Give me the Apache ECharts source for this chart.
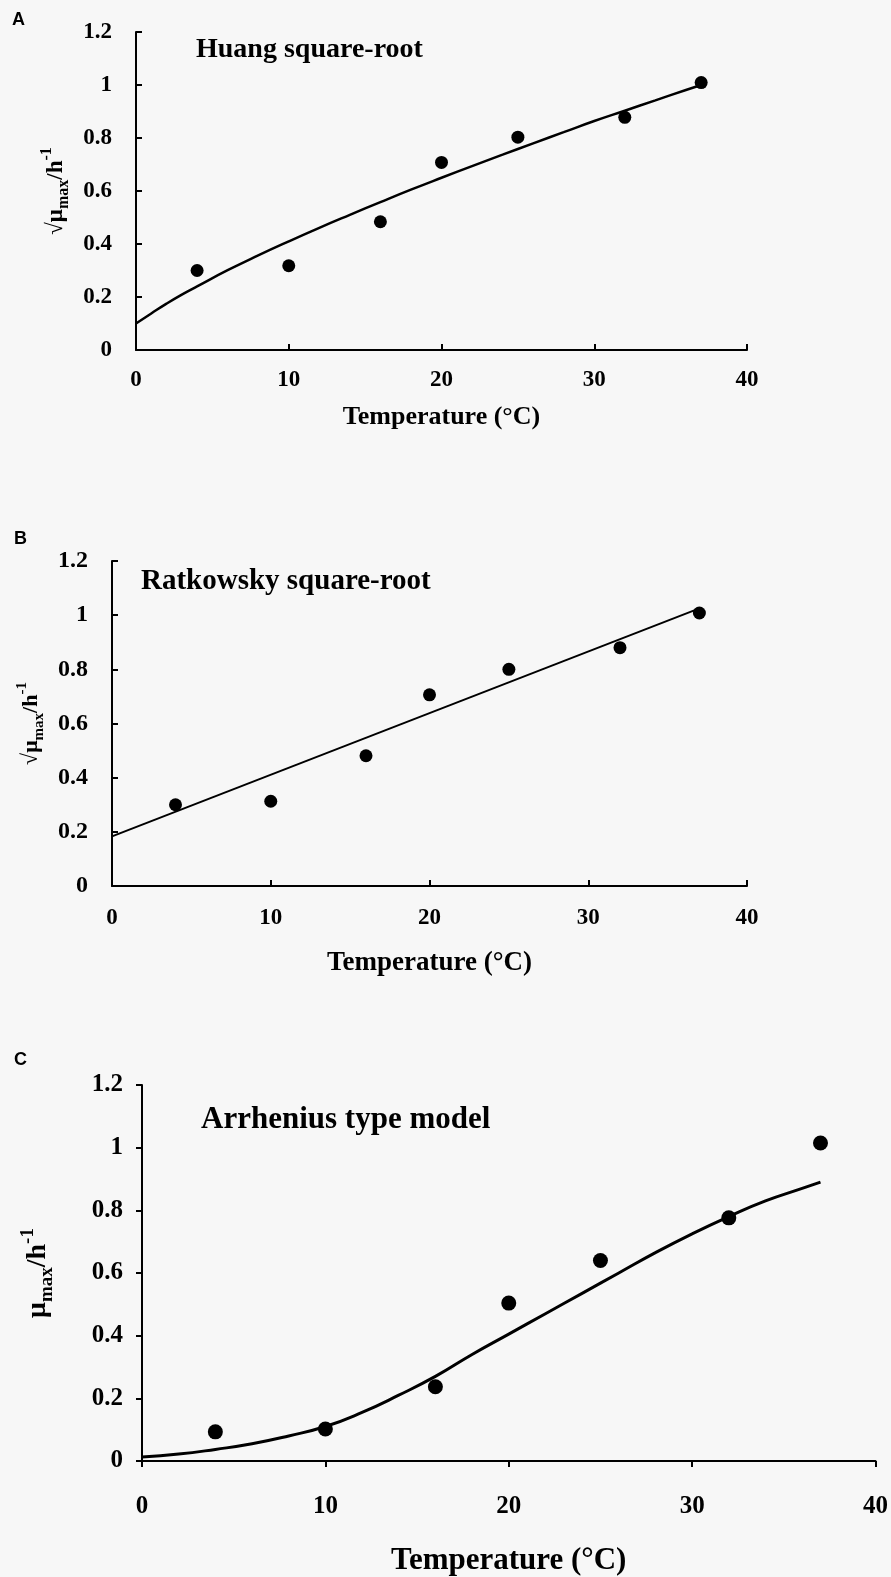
<!DOCTYPE html>
<html>
<head>
<meta charset="utf-8">
<script src="https://cdn.jsdelivr.net/npm/echarts@6/dist/echarts.min.js"></script>
<style>
  html, body { margin: 0; padding: 0; background: #f7f7f7; }
  #chart { width: 891px; height: 1577px; }
</style>
</head>
<body>
<div id="chart"></div>
<script>
// observed growth rates (same temperatures in every panel)
const temps = [4, 10, 16, 20, 25, 32, 37];
const sqrtRateA = [0.30, 0.318, 0.484, 0.708, 0.803, 0.878, 1.009];
const sqrtRateB = [0.30, 0.313, 0.481, 0.706, 0.80, 0.88, 1.008];
const rateC = [0.093, 0.102, 0.237, 0.504, 0.640, 0.776, 1.015];

// fitted curves
const huangTemps = [0, 1, 2, 3, 4, 6, 8, 10, 12, 14, 16, 18, 20, 22, 24, 26, 28, 30, 32, 34, 36, 37];
const huangFit = [0.10, 0.138, 0.175, 0.209, 0.24, 0.301, 0.357, 0.41, 0.461, 0.51, 0.558, 0.605, 0.65, 0.694, 0.737, 0.78, 0.822, 0.864, 0.903, 0.942, 0.981, 1.0];
const ratkowskyTemps = [0, 37];
const ratkowskyFit = [0.183, 1.025];
const arrheniusTemps = [0, 2, 4, 6, 8, 10, 12, 14, 16, 18, 20, 22, 24, 26, 28, 30, 32, 34, 36, 37];
const arrheniusFit = [0.013, 0.022, 0.037, 0.055, 0.08, 0.11, 0.155, 0.21, 0.27, 0.34, 0.405, 0.47, 0.535, 0.60, 0.665, 0.725, 0.78, 0.83, 0.87, 0.89];

const panelLetters = ['A', 'B', 'C'];
const panelTitles = ['Huang square-root', 'Ratkowsky square-root', 'Arrhenius type model'];
const xName = 'Temperature (°C)';

const serif = 'Liberation Serif';

function pairs(xs, ys) {
  return xs.map((x, i) => [x, ys[i]]);
}

function xAxisOf(idx, fs, nameFs, nameGap, margin, inside) {
  return {
    type: 'value', gridIndex: idx, min: 0, max: 40, interval: 10,
    name: xName, nameLocation: 'middle', nameGap: nameGap,
    nameTextStyle: { fontFamily: serif, fontWeight: 'bold', fontSize: nameFs, color: '#000' },
    axisLine: { onZero: false, lineStyle: { color: '#000', width: 2 } },
    axisTick: { inside: inside, length: 6, lineStyle: { color: '#000', width: 2 } },
    axisLabel: { fontFamily: serif, fontWeight: 'bold', fontSize: fs, color: '#000', margin: margin },
    splitLine: { show: false }
  };
}

function yAxisOf(idx, fs, margin, inside, name, nameGap, rich) {
  return {
    type: 'value', gridIndex: idx, min: 0, max: 1.2, interval: 0.2,
    name: name, nameLocation: 'middle', nameRotate: 90, nameGap: nameGap,
    nameTextStyle: { fontFamily: serif, fontWeight: 'bold', color: '#000', rich: rich },
    axisLine: { onZero: false, lineStyle: { color: '#000', width: 2 } },
    axisTick: { inside: inside, length: 6, lineStyle: { color: '#000', width: 2 } },
    axisLabel: { fontFamily: serif, fontWeight: 'bold', fontSize: fs, color: '#000', margin: margin },
    splitLine: { show: false }
  };
}

function richOf(base) {
  let small = Math.round(base * 0.68);
  return {
    r: { fontFamily: serif, fontSize: base, color: '#000', lineHeight: base + 8 },
    m: { fontFamily: serif, fontWeight: 'bold', fontSize: base, color: '#000', lineHeight: base + 8 },
    s: { fontFamily: serif, fontWeight: 'bold', fontSize: small, color: '#000', verticalAlign: 'bottom', lineHeight: base + 2 },
    p: { fontFamily: serif, fontWeight: 'bold', fontSize: small, color: '#000', verticalAlign: 'top', lineHeight: base + 10 }
  };
}

let chart = echarts.init(document.getElementById('chart'));

let letterStyle = { fontFamily: 'Liberation Sans', fontWeight: 'bold', fontSize: 18, color: '#000' };

let options = {
  backgroundColor: '#f7f7f7',
  animation: false,
  title: [
    { text: panelLetters[0], left: 12, top: 11, padding: 0, textStyle: letterStyle },
    { text: panelLetters[1], left: 14, top: 530, padding: 0, textStyle: letterStyle },
    { text: panelLetters[2], left: 14, top: 1051, padding: 0, textStyle: letterStyle },
    { text: panelTitles[0], left: 196, top: 36, padding: 0, textStyle: { fontFamily: serif, fontWeight: 'bold', fontSize: 28, color: '#000' } },
    { text: panelTitles[1], left: 141, top: 567, padding: 0, textStyle: { fontFamily: serif, fontWeight: 'bold', fontSize: 29, color: '#000' } },
    { text: panelTitles[2], left: 201, top: 1104, padding: 0, textStyle: { fontFamily: serif, fontWeight: 'bold', fontSize: 31, color: '#000' } }
  ],
  grid: [
    { left: 136, top: 32, width: 611, height: 318 },
    { left: 112, top: 561, width: 635, height: 325 },
    { left: 142, top: 1085, width: 736, height: 380 }
  ],
  xAxis: [
    xAxisOf(0, 23, 26, 54, 19, true),
    xAxisOf(1, 23, 27, 64, 21, true),
    xAxisOf(2, 25, 31, 84, 33, false)
  ],
  yAxis: [
    yAxisOf(0, 23, 24, true, '{r|√}{m|μ}{s|max}{m|/h}{p|-1}', 58, richOf(23)),
    yAxisOf(1, 24, 24, true, '{r|√}{m|μ}{s|max}{m|/h}{p|-1}', 55, richOf(22)),
    yAxisOf(2, 25, 19, false, '{m|μ}{s|max}{m|/h}{p|-1}', 85, richOf(28))
  ],
  series: [
    { type: 'line', xAxisIndex: 0, yAxisIndex: 0, data: pairs(huangTemps, huangFit), smooth: true, showSymbol: false, lineStyle: { color: '#000', width: 2.5 } },
    { type: 'scatter', xAxisIndex: 0, yAxisIndex: 0, data: pairs(temps, sqrtRateA), symbolSize: 13, itemStyle: { color: '#000', opacity: 1 } },
    { type: 'line', xAxisIndex: 1, yAxisIndex: 1, data: pairs(ratkowskyTemps, ratkowskyFit), showSymbol: false, lineStyle: { color: '#000', width: 2 } },
    { type: 'scatter', xAxisIndex: 1, yAxisIndex: 1, data: pairs(temps, sqrtRateB), symbolSize: 13, itemStyle: { color: '#000', opacity: 1 } },
    { type: 'line', xAxisIndex: 2, yAxisIndex: 2, data: pairs(arrheniusTemps, arrheniusFit), smooth: true, showSymbol: false, lineStyle: { color: '#000', width: 3 } },
    { type: 'scatter', xAxisIndex: 2, yAxisIndex: 2, data: pairs(temps, rateC), symbolSize: 15, itemStyle: { color: '#000', opacity: 1 } }
  ]
};

chart.setOption(options);
</script>
</body>
</html>
